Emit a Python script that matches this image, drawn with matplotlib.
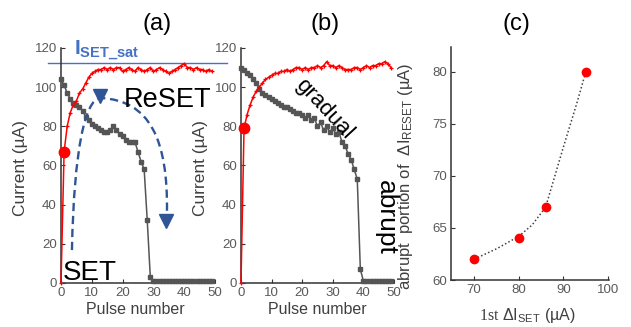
import matplotlib
matplotlib.use("Agg")
import matplotlib.pyplot as plt
from matplotlib.path import Path
from matplotlib.patches import PathPatch

plt.rcParams["font.family"] = ["Liberation Sans", "DejaVu Sans"]
plt.rcParams["mathtext.fontset"] = "custom"
plt.rcParams["mathtext.rm"] = "Liberation Sans"
plt.rcParams["mathtext.it"] = "Liberation Sans:italic"
plt.rcParams["mathtext.bf"] = "Liberation Sans:bold"
plt.rcParams["mathtext.tt"] = "Liberation Serif"

# ---- data ----
pulses = list(range(50))

# (a) SET (red) and RESET (black) current per pulse, uA
set_a = [0, 67, 80, 87, 91, 93, 97, 99, 102, 105,
         107, 108, 109, 109, 110, 109, 110, 109, 110, 110,
         108, 109, 110, 109, 108, 110, 109, 108, 109, 110,
         108, 109, 110, 109, 108, 107, 108, 109, 110, 111,
         112, 110, 110, 109, 110, 109, 109, 108, 109, 108]
reset_a = [104, 101, 97, 94, 92, 91, 90, 88, 85, 83,
           81, 80, 79, 78, 77, 77, 78, 80, 78, 76,
           75, 73, 72, 72, 72, 67, 62, 58, 32, 3,
           1, 1, 1, 1, 1, 1, 1, 1, 1, 1,
           1, 1, 1, 1, 1, 1, 1, 1, 1, 1]

# (b)
set_b = [0, 79, 86, 91, 95, 98, 100, 102, 104, 105,
         106, 107, 107, 108, 108, 109, 108, 109, 110, 110,
         109, 110, 109, 110, 110, 111, 110, 111, 113, 111,
         111, 110, 111, 110, 109, 109, 109, 110, 110, 109,
         110, 111, 110, 111, 111, 112, 112, 113, 112, 110]
reset_b = [110, 109, 107, 106, 104, 102, 99, 97, 96, 95,
           94, 93, 92, 91, 90, 90, 89, 88, 87, 87,
           86, 84, 86, 83, 84, 80, 82, 78, 80, 77,
           79, 76, 77, 72, 70, 66, 63, 58, 53, 7,
           1, 1, 1, 1, 1, 1, 1, 1, 1, 1]

first_idx = 1          # first SET pulse (big dot)
i_set_sat = 112.5      # saturation level line in (a)

# (c) abrupt portion vs 1st dI_SET
dset_c = [70, 80, 86, 95]
abrupt_c = [62, 64, 67, 80]
trend_x = [70, 75, 80, 83, 86, 90, 93, 95]
trend_y = [62.0, 63.0, 64.2, 65.3, 67.0, 72.8, 77.0, 80.0]

RED = "#FF0000"
GREY = "#555555"
BLUE = "#4472C4"
DBLUE = "#2F5597"
TICK = "#595959"

fig = plt.figure(figsize=(6.31, 3.27), dpi=100)
ax_a = fig.add_axes([0.0967, 0.1346, 0.2440, 0.7187])
ax_b = fig.add_axes([0.3819, 0.1346, 0.2425, 0.7187])
ax_c = fig.add_axes([0.7147, 0.1437, 0.2504, 0.7126])


def style(ax):
    for s in ("top", "right"):
        ax.spines[s].set_visible(False)
    for s in ("left", "bottom"):
        ax.spines[s].set_color("#333333")
        ax.spines[s].set_linewidth(1.1)
    ax.tick_params(direction="in", length=3, width=0.8, colors="#333333",
                   labelcolor=TICK, labelsize=9.5, pad=3)


# panels (a) and (b)
for ax, s_vals, r_vals in ((ax_a, set_a, reset_a), (ax_b, set_b, reset_b)):
    style(ax)
    ax.plot(pulses, r_vals, color=GREY, lw=1.1, marker="s", ms=2.2,
            clip_on=False, zorder=3)
    ax.plot(pulses, s_vals, color=RED, lw=1.1, marker="+", ms=3.5,
            mew=0.9, clip_on=False, zorder=4)
    ax.plot(pulses[first_idx], s_vals[first_idx], "o", color=RED, ms=7.5,
            clip_on=False, zorder=5)
    ax.set_xlim(0, 50)
    ax.set_ylim(0, 120)
    ax.set_xticks([0, 10, 20, 30, 40, 50])
    ax.set_yticks([0, 20, 40, 60, 80, 100, 120])
    ax.set_xlabel("Pulse number", fontsize=11.5, color="#404040")
    ax.set_ylabel("Current (µA)", fontsize=12.5, color="#404040")

ax_a.xaxis.set_label_coords(0.484, -0.083)
ax_b.xaxis.set_label_coords(0.497, -0.083)
ax_a.yaxis.set_label_coords(-0.214, 0.49)
ax_b.yaxis.set_label_coords(-0.216, 0.49)

# saturation line and label
ax_a.axhline(i_set_sat, xmin=-0.084, xmax=1.078, color=BLUE, lw=1.0,
             clip_on=False, zorder=2)
fig.text(0.117, 0.835, r"$\mathbf{I}_{\mathbf{SET\_sat}}$", color=BLUE,
         fontsize=15, ha="left", va="baseline")

# dashed guide arrow in (a), axes-fraction coordinates
verts = [(0.071, 0.140), (0.084, 0.566), (0.156, 0.779), (0.253, 0.787),
         (0.578, 0.779), (0.695, 0.609), (0.688, 0.300)]
codes = [Path.MOVETO, Path.CURVE4, Path.CURVE4, Path.CURVE4,
         Path.CURVE4, Path.CURVE4, Path.CURVE4]
guide = PathPatch(Path(verts, codes), transform=ax_a.transAxes, fill=False,
                  edgecolor=DBLUE, lw=1.7, linestyle=(0, (3.5, 2.0)),
                  clip_on=False, zorder=6)
ax_a.add_patch(guide)
ax_a.plot([0.253, 0.682], [0.796, 0.262], "v", color=DBLUE, ms=10,
          transform=ax_a.transAxes, clip_on=False, zorder=7)

ax_a.text(0.013, 0.012, "SET", fontsize=20, color="black",
          transform=ax_a.transAxes, ha="left", va="baseline", zorder=8)
ax_a.text(0.41, 0.749, "ReSET", fontsize=19.5, color="black",
          transform=ax_a.transAxes, ha="left", va="baseline", zorder=8)

ax_b.text(0.545, 0.74, "gradual", fontsize=16, color="black",
          rotation=-47, transform=ax_b.transAxes, ha="center", va="center")
ax_b.text(0.945, 0.277, "abrupt", fontsize=19, color="black",
          rotation=-90, transform=ax_b.transAxes, ha="center", va="center")

# panel (c)
style(ax_c)
ax_c.plot(trend_x, trend_y, color="#404040", lw=1.1, linestyle=(0, (1, 1.5)),
          zorder=2)
ax_c.plot(dset_c, abrupt_c, "o", color=RED, ms=6, zorder=3)
ax_c.set_xlim(64.8, 100.2)
ax_c.set_ylim(60, 82.4)
ax_c.set_xticks([70, 80, 90, 100])
ax_c.set_yticks([60, 65, 70, 75, 80])
ax_c.set_xlabel(r"$\mathtt{1st}$ $\Delta\mathrm{I}_{\mathrm{SET}}$ (µA)",
                fontsize=11.5, color="#404040")
ax_c.set_ylabel(r"abrupt  portion of  $\Delta\mathrm{I}_{\mathrm{RESET}}$ (µA)",
                fontsize=12, color="#404040")
ax_c.xaxis.set_label_coords(0.484, -0.112)
ax_c.yaxis.set_label_coords(-0.225, 0.446)

# panel titles
for xpos, lab in ((0.249, "(a)"), (0.515, "(b)"), (0.818, "(c)")):
    fig.text(xpos, 0.927, lab, fontsize=17, ha="center", va="center",
             color="black")

fig.savefig("out.png", dpi=100)
